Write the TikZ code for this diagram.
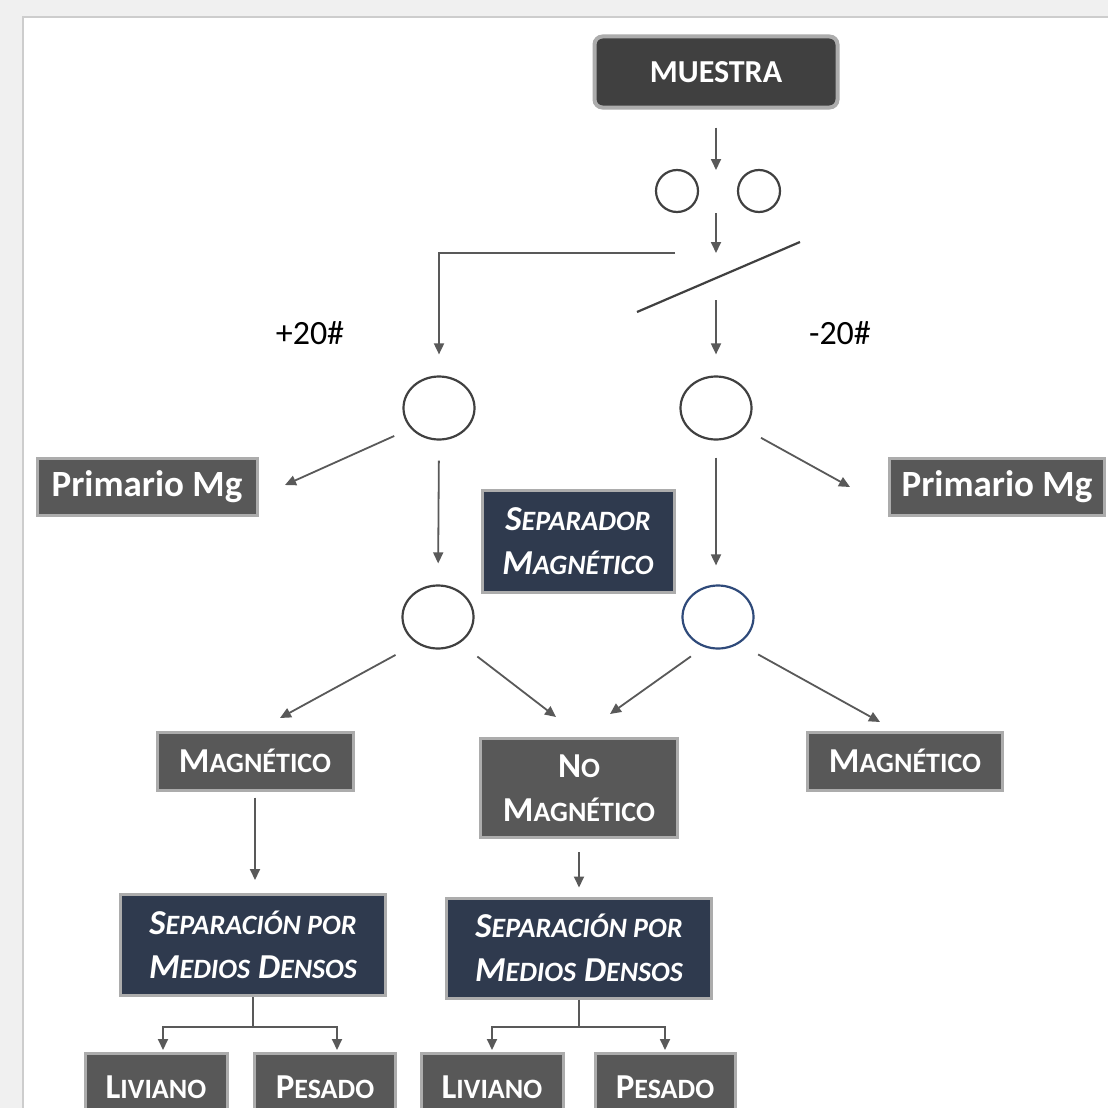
\documentclass[tikz,border=0pt]{standalone}
\usepackage{fontspec}
\setmainfont{Carlito}
\usetikzlibrary{arrows.meta,shapes.geometric}
\definecolor{Pg}{RGB}{240,240,240}
\definecolor{Ln}{RGB}{89,89,89}
\definecolor{Bx}{RGB}{88,88,88}
\definecolor{Nv}{RGB}{47,58,78}
\definecolor{Rim}{RGB}{172,172,172}
\definecolor{Ms}{RGB}{64,64,64}
\definecolor{Cb}{RGB}{47,74,122}
\newcommand\sm[1]{{\fontsize{28}{44}\selectfont #1}}

\begin{document}
\begin{tikzpicture}[x=1pt,y=-1pt,
    flow/.style={draw=Ln,line width=1.8pt,-{Triangle[length=11pt,width=10pt]}},
    link/.style={draw=Ln,line width=1.8pt},
    graybox/.style={fill=Bx,draw=Rim,line width=3pt,text=white,align=center,inner sep=0pt,
        font=\fontsize{35}{44}\selectfont\bfseries},
    navybox/.style={graybox,fill=Nv,font=\fontsize{35}{44}\selectfont\bfseries\itshape},
    primbox/.style={graybox,font=\fontsize{37}{44}\selectfont\bfseries},
    topbox/.style={graybox,fill=Ms,draw=Rim,line width=4pt,rounded corners=8pt,
        font=\fontsize{32}{40}\selectfont\bfseries},
    roll/.style={circle,draw=Ms,line width=2.2pt,minimum size=42pt,inner sep=0pt},
    cell/.style={ellipse,draw=Ms,line width=2.2pt,minimum width=71pt,minimum height=63pt,inner sep=0pt},
    lbl/.style={font=\fontsize{34}{40}\selectfont,inner sep=0pt}]
    \path[use as bounding box] (0,0) rectangle (1108,1108);
    % page
    \fill[Pg] (0,0) rectangle (1108,1108);
    \fill[white] (23,17) rectangle (1108,1108);
    \draw[Rim!60,line width=1.5pt] (23,1108) -- (23,17) -- (1108,17);
    % crushing and screening
    \node[topbox,minimum width=243pt,minimum height=71pt] (muestra) at (716,72) {MUESTRA};
    \node[roll] (rollA) at (677,191) {};
    \node[roll] (rollB) at (759,191) {};
    \coordinate (nip) at (716,191);
    \coordinate (scrA) at (637,312);
    \coordinate (scrB) at (800,242);
    \coordinate (scrM) at (716,278);
    \coordinate (ovr) at (675,253);
    \draw[Ms,line width=2.2pt] (scrA) -- (scrB);
    \node[lbl] (plus) at (310,333) {+20\#};
    \node[lbl] (minus) at (840,333) {-20\#};
    % magnetic cells
    \node[cell] (cirL1) at (439,408) {};
    \node[cell] (cirR1) at (716,408) {};
    \node[cell] (cirL2) at (438,617) {};
    \node[cell,draw=Cb] (cirR2) at (718,617) {};
    \node[primbox,minimum width=220pt,minimum height=57pt] (primL) at (147,487) {Primario Mg};
    \node[primbox,minimum width=215pt,minimum height=57pt] (primR) at (997,487) {Primario Mg};
    \node[navybox,minimum width=192pt,minimum height=102pt] (sepmag) at (578,541) {S\sm{EPARADOR}\\M\sm{AGNÉTICO}};
    \node[graybox,minimum width=196pt,minimum height=58pt] (magL) at (255,761) {M\sm{AGNÉTICO}};
    \node[graybox,minimum width=197pt,minimum height=99pt] (nomag) at (579,788) {N\sm{O}\\M\sm{AGNÉTICO}};
    \node[graybox,minimum width=195pt,minimum height=58pt] (magR) at (905,761) {M\sm{AGNÉTICO}};
    % dense media
    \node[navybox,minimum width=265pt,minimum height=101pt] (smdL) at (253,945) {S\sm{EPARACIÓN POR}\\M\sm{EDIOS} D\sm{ENSOS}};
    \node[navybox,minimum width=265pt,minimum height=100pt] (smdR) at (579,948) {S\sm{EPARACIÓN POR}\\M\sm{EDIOS} D\sm{ENSOS}};
    \foreach \N/\X/\W/\T in {livL/156/142/L\sm{IVIANO},pesL/325/141/P\sm{ESADO},livR/492/142/L\sm{IVIANO},pesR/665/140/P\sm{ESADO}}
        \node[graybox,minimum width=\W pt,minimum height=67pt] (\N) at (\X,1087) {\T};
    % arrow tips that stop short
    \coordinate (tPL) at (285,485);
    \coordinate (tPR) at (850,487);
    \coordinate (tML) at (280,718);
    \coordinate (tNL) at (556,717);
    \coordinate (tNR) at (610,714);
    \coordinate (tMR) at (880,722);
    \coordinate (brL) at (253,1027);
    \coordinate (brR) at (579,1027);
    % connectors
    \draw[flow,shorten <=18pt,shorten >=21pt] (muestra.south) -- (nip);
    \draw[flow,shorten <=22pt,shorten >=25pt] (nip) -- (scrM);
    \draw[flow,shorten >=21pt] (ovr) -| (cirL1.north);
    \draw[flow,shorten <=22pt,shorten >=21pt] (scrM) -- (cirR1.north);
    \draw[flow,shorten <=18pt] (cirL1.216) -- (tPL);
    \draw[flow,shorten <=19pt] (cirR1.324) -- (tPR);
    \draw[flow,shorten <=20pt,shorten >=21pt] (cirL1.south) -- (cirL2.north);
    \draw[flow,shorten <=17pt,shorten >=19pt] (cirR1.south) -- (cirR1.south |- cirR2.north);
    \draw[flow,shorten <=24pt] (cirL2.231) -- (tML);
    \draw[flow,shorten <=22pt] (cirL2.310) -- (tNL);
    \draw[flow,shorten <=16pt] (cirR2.245) -- (tNR);
    \draw[flow,shorten <=22pt] (cirR2.308) -- (tMR);
    \draw[flow,shorten <=6pt,shorten >=13pt] (magL.south) -- (magL.south |- smdL.north);
    \draw[flow,shorten <=13pt,shorten >=9pt] (nomag.south) -- (nomag.south |- smdR.north);
    \draw[link] (smdL.south) -- (brL);
    \draw[flow,shorten >=2pt] (brL) -| ([xshift=7pt]livL.north);
    \draw[flow,shorten >=2pt] (brL) -| ([xshift=12pt]pesL.north);
    \draw[link] (smdR.south) -- (brR);
    \draw[flow,shorten >=2pt] (brR) -| (livR.north);
    \draw[flow,shorten >=2pt] (brR) -| (pesR.north);
\end{tikzpicture}
\end{document}
